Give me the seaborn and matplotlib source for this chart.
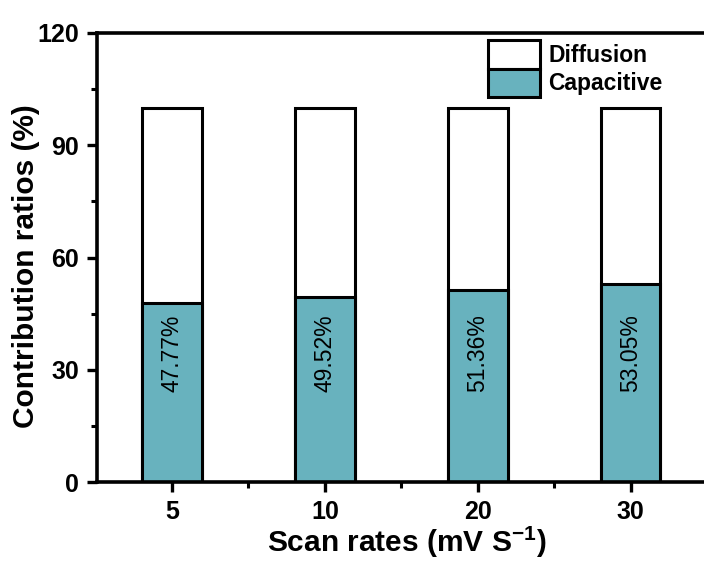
import matplotlib
matplotlib.use("Agg")
import matplotlib.pyplot as plt
from matplotlib.patches import Patch
from matplotlib.ticker import MultipleLocator, FixedLocator
import seaborn as sns
import pandas as pd

# Scan rates and the capacitive / diffusion split at each rate (%)
scan_rates = ["5", "10", "20", "30"]
capacitive = [47.77, 49.52, 51.36, 53.05]
diffusion = [52.23, 50.48, 48.64, 46.95]

teal = "#68B2BE"

sns.set_style("white")
plt.rcParams["font.family"] = ["Liberation Sans", "DejaVu Sans"]
plt.rcParams["text.color"] = "black"
plt.rcParams["axes.labelcolor"] = "black"
plt.rcParams["xtick.color"] = "black"
plt.rcParams["ytick.color"] = "black"
plt.rcParams["mathtext.fontset"] = "custom"
plt.rcParams["mathtext.bf"] = "Liberation Sans:bold"
plt.rcParams["mathtext.rm"] = "Liberation Sans:bold"

df = pd.DataFrame({
    "rate": scan_rates,
    "capacitive": capacitive,
    "total": [c + d for c, d in zip(capacitive, diffusion)],
})

fig = plt.figure(figsize=(7.04, 5.61), dpi=100)
ax = fig.add_axes([97 / 704, 79 / 561, 620 / 704, 449 / 561])

bar_kw = dict(width=0.39, edgecolor="black", linewidth=2.2, saturation=1, ax=ax)
# full column (diffusion part sits on top of the capacitive part)
sns.barplot(data=df, x="rate", y="total", color="white", **bar_kw)
sns.barplot(data=df, x="rate", y="capacitive", color=teal, **bar_kw)

for i, v in enumerate(capacitive):
    ax.text(i, 34.5, f"{v:.2f}%", rotation=90, ha="center", va="center",
            fontsize=16.5, color="black")

ax.set_xlim(-0.49, 3.565)
ax.set_ylim(0, 120)
ax.yaxis.set_major_locator(MultipleLocator(30))
ax.yaxis.set_minor_locator(MultipleLocator(15))
ax.xaxis.set_minor_locator(FixedLocator([0.5, 1.5, 2.5, 3.5]))

for side in ["left", "bottom", "top"]:
    ax.spines[side].set_linewidth(2.6)
    ax.spines[side].set_color("black")
ax.spines["right"].set_visible(False)

ax.tick_params(which="major", direction="out", length=7, width=2.4,
               labelsize=18, pad=6)
ax.tick_params(which="minor", direction="out", length=4, width=2.2)
ax.tick_params(axis="x", which="both", bottom=True, top=False)
ax.tick_params(axis="y", which="both", left=True, right=False)
for lab in ax.get_xticklabels() + ax.get_yticklabels():
    lab.set_fontweight("bold")

ax.set_xlabel(r"Scan rates (mV S$^{\mathbf{-1}}$)", fontsize=21.5, fontweight="bold", labelpad=0)
ax.set_ylabel("Contribution ratios (%)", fontsize=21.5, fontweight="bold")
ax.yaxis.set_label_coords((40 - 97) / 620, (482 - 266) / 449)

handles = [
    Patch(facecolor="white", edgecolor="black", linewidth=2.2, label="Diffusion"),
    Patch(facecolor=teal, edgecolor="black", linewidth=2.2, label="Capacitive"),
]
ax.legend(handles=handles, loc="upper left",
          bbox_to_anchor=((488 - 97) / 620, (482 - 40) / 449),
          frameon=False, borderpad=0, borderaxespad=0,
          handlelength=2.27, handleheight=1.54, labelspacing=0.0,
          handletextpad=0.35, prop={"size": 16.5, "weight": "bold"})

fig.savefig("out.png", dpi=100)
